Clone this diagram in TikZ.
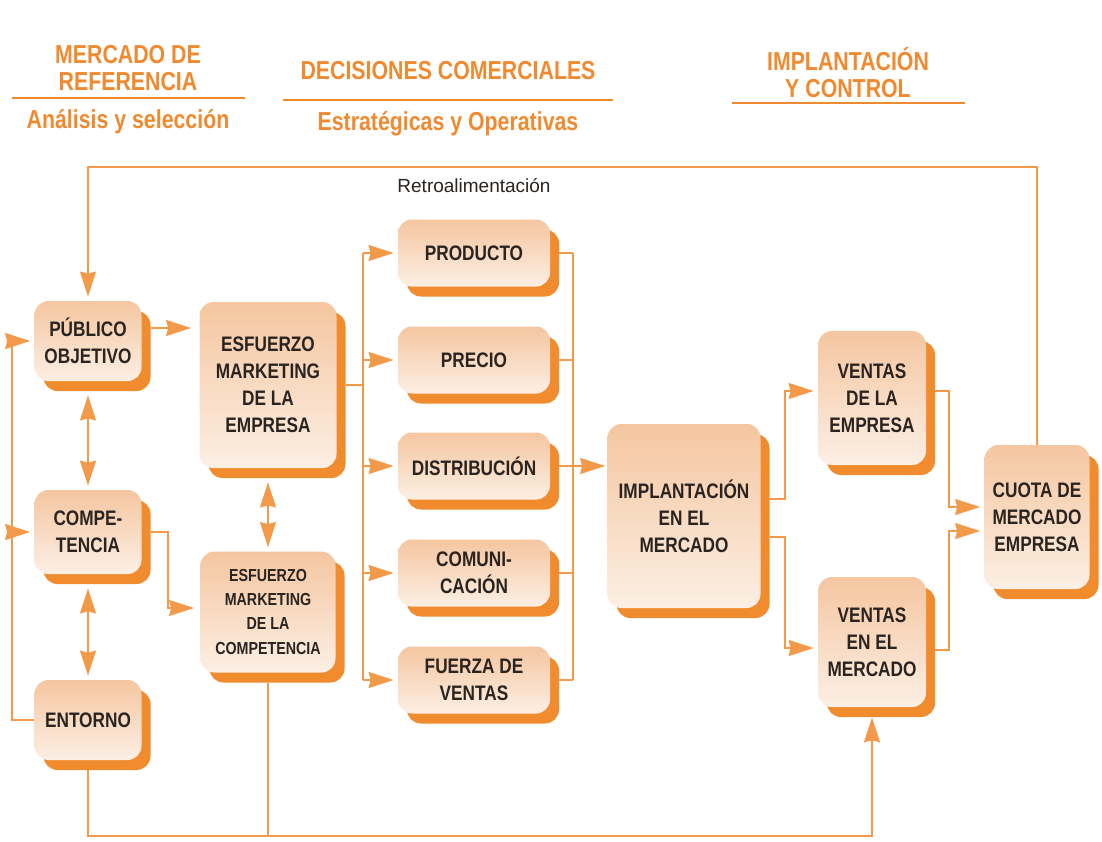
\documentclass[tikz,border=0pt]{standalone}
\usepackage{fontspec}
\setmainfont{Liberation Sans}[FakeStretch=0.82]
\newfontfamily\plainfont{Liberation Sans}
\usepackage{xcolor}
\usetikzlibrary{shadows,arrows.meta}

\definecolor{hdrorange}{HTML}{F08A30}
\definecolor{lineorange}{HTML}{F39A4A}
\definecolor{shadoworange}{HTML}{F08C2E}
\definecolor{boxtop}{HTML}{F5C6A0}
\definecolor{boxbottom}{HTML}{FCEFE4}
\definecolor{boxtext}{HTML}{2A2420}

\begin{document}
\begin{tikzpicture}[x=0.5pt, y=-0.5pt,
	box/.style={rounded corners=7pt, top color=boxtop, bottom color=boxbottom, align=center, inner sep=0pt, text=boxtext, font=\fontsize{10.5pt}{13.5pt}\selectfont\bfseries, drop shadow={shadow xshift=4.5pt, shadow yshift=-5pt, fill=shadoworange, opacity=1}},
	head/.style={align=center, text=hdrorange, font=\fontsize{13pt}{13.5pt}\selectfont\bfseries},
	hline/.style={draw=hdrorange, line width=1.25pt},
	ln/.style={draw=lineorange, line width=0.75pt},
	tip/.tip={Stealth[length=12.5pt,width=8pt,inset=1pt]},
	arr/.style={ln, -tip, shorten >=2pt},
	dbl/.style={ln, tip-tip, shorten >=2pt, shorten <=2pt}]
	\useasboundingbox[fill=white] (0,0) rectangle (1102,841);
	% headings
	\node[head] (mref) at (128,68) {MERCADO DE\\REFERENCIA};
	\draw[hline] (12,98) -- (245,98);
	\node[head] (anal) at (128,122) {Análisis y selección};
	\node[head] (dec) at (448,71) {DECISIONES COMERCIALES};
	\draw[hline] (283,100) -- (613,100);
	\node[head] (estr) at (448,124) {Estratégicas y Operativas};
	\node[head] (impc) at (848,73) {IMPLANTACIÓN\\Y CONTROL};
	\draw[hline] (732,103) -- (965,103);
	% boxes
	\node[box, minimum width=53.5pt, minimum height=40pt] (pub) at (88,341) {PÚBLICO\\OBJETIVO};
	\node[box, minimum width=53.5pt, minimum height=42pt] (comp) at (88,532) {COMPE-\\TENCIA};
	\node[box, minimum width=53.5pt, minimum height=40pt] (ent) at (88,720) {ENTORNO};
	\node[box, minimum width=68.5pt, minimum height=83pt] (emp) at (268,385) {ESFUERZO\\MARKETING\\DE LA\\EMPRESA};
	\node[box, minimum width=67.5pt, minimum height=60.5pt, font=\fontsize{8.7pt}{12pt}\selectfont\bfseries] (ecomp) at (268,612) {ESFUERZO\\MARKETING\\DE LA\\COMPETENCIA};
	\node[box, minimum width=76pt, minimum height=33.5pt] (prod) at (474,253) {PRODUCTO};
	\node[box, minimum width=76pt, minimum height=33.5pt] (prec) at (474,360) {PRECIO};
	\node[box, minimum width=76pt, minimum height=33.5pt] (dist) at (474,466) {DISTRIBUCIÓN};
	\node[box, minimum width=76pt, minimum height=33.5pt] (comu) at (474,573) {COMUNI-\\CACIÓN};
	\node[box, minimum width=76pt, minimum height=33.5pt] (fuer) at (474,680) {FUERZA DE\\VENTAS};
	\node[box, minimum width=76.5pt, minimum height=92pt] (impl) at (684,516) {IMPLANTACIÓN\\EN EL\\MERCADO};
	\node[box, minimum width=54pt, minimum height=67pt] (vemp) at (872,398) {VENTAS\\DE LA\\EMPRESA};
	\node[box, minimum width=54pt, minimum height=65pt] (vmer) at (872,642) {VENTAS\\EN EL\\MERCADO};
	\node[box, minimum width=52.5pt, minimum height=72pt] (cuota) at (1037,517) {CUOTA DE\\MERCADO\\EMPRESA};
	% feedback
	\coordinate (fb) at (474,167);
	\draw[arr] (cuota.north) |- (fb) -| (pub.north);
	\node[font=\plainfont\fontsize{9.5pt}{11pt}\selectfont, text=boxtext] (retro) at (474,186) {Retroalimentación};
	% left loop
	\coordinate (loop) at (12,341);
	\draw[arr] (ent.west) -| (loop) -- (pub.west);
	\draw[arr] (loop |- comp.west) -- (comp.west);
	\draw[dbl] ([yshift=-5pt]pub.south) -- (comp.north);
	\draw[dbl] ([yshift=-5pt]comp.south) -- (ent.north);
	% marketing effort
	\draw[arr, shorten >=4pt] ([xshift=4.5pt,yshift=6.5pt]pub.east) -- ([yshift=6.5pt]pub.east -| emp.west);
	\draw[dbl] ([yshift=-5pt]emp.south) -- (ecomp.north);
	\coordinate (j1) at (168,608);
	\draw[arr, shorten >=3pt] ([xshift=4.5pt]comp.east) -| (j1) -- (j1 -| ecomp.west);
	% decisions
	\coordinate (trunk) at (363,385);
	\draw[ln] ([xshift=4.5pt]emp.east) -- (trunk);
	\draw[ln] (trunk |- prod.west) -- (trunk |- fuer.west);
	\foreach \b in {prod,prec,dist,comu,fuer}
		\draw[arr] (trunk |- \b.west) -- (\b.west);
	\coordinate (col) at (573,466);
	\foreach \b in {prod,prec,dist,comu,fuer}
		\draw[ln] ([xshift=4.5pt]\b.east) -- (col |- \b.east);
	\draw[ln] (col |- prod.east) -- (col |- fuer.east);
	\draw[arr, shorten >=1pt] (col |- dist.east) -- (dist.east -| impl.west);
	% sales and share
	\coordinate (s1) at (785,391);
	\coordinate (s2) at (785,648);
	\draw[arr] ([xshift=4.5pt,yshift=8.5pt]impl.east) -| (s1) -- (s1 -| vemp.west);
	\draw[arr] ([xshift=4.5pt,yshift=-10.5pt]impl.east) -| (s2) -- (s2 -| vmer.west);
	\coordinate (q1) at (949,507);
	\coordinate (q2) at (949,531);
	\draw[arr] ([xshift=4.5pt,yshift=3.5pt]vemp.east) -| (q1) -- (q1 -| cuota.west);
	\draw[arr] ([xshift=4.5pt,yshift=-4pt]vmer.east) -| (q2) -- (q2 -| cuota.west);
	% bottom
	\coordinate (bot) at (872,836);
	\draw[arr, shorten >=5pt] ([yshift=-5pt]ent.south) |- (bot) -- (vmer.south);
	\draw[ln] ([yshift=-5pt]ecomp.south) -- (ecomp.south |- bot);
\end{tikzpicture}
\end{document}
